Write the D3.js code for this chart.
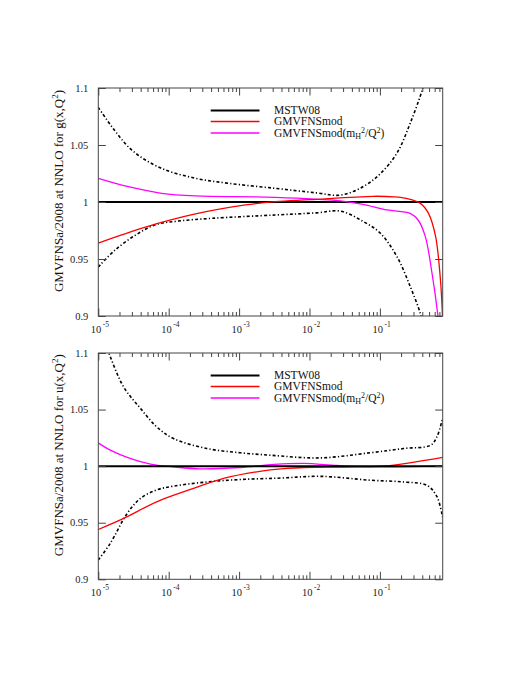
<!DOCTYPE html>
<html><head><meta charset="utf-8">
<script src="https://cdn.jsdelivr.net/npm/d3@7"></script>
<style>body{margin:0;background:#fff}</style>
</head><body>
<svg id="c" width="531" height="687"></svg>
<script>
// ---------- data (top panel: gluon) ----------
const gUpperX = [1e-5, 2.82e-5, 7.59e-5, 2.40e-4, 7.08e-4, 3.24e-3, 0.0126, 0.0275, 0.0575, 0.102, 0.175, 0.269, 0.398, 0.437];
const gUpper  = [1.083, 1.047, 1.030, 1.0208, 1.0164, 1.012, 1.008, 1.006, 1.0134, 1.025, 1.043, 1.069, 1.098, 1.108];
const gLowerX = [1e-5, 1.74e-5, 3.39e-5, 6.46e-5, 1.38e-4, 4.17e-4, 3.24e-3, 0.0126, 0.0275, 0.0575, 0.102, 0.175, 0.269, 0.372, 0.398];
const gLower  = [0.943, 0.958, 0.971, 0.980, 0.9833, 0.9857, 0.9886, 0.9905, 0.992, 0.983, 0.9725, 0.952, 0.926, 0.903, 0.895];
const gRedX   = [1e-5, 4.68e-5, 2.40e-4, 1.23e-3, 3.24e-3, 0.01, 0.0794, 0.158, 0.245, 0.372, 0.490, 0.617, 0.724, 0.78];
const gRed    = [0.964, 0.978, 0.9895, 0.9974, 1.0003, 1.002, 1.005, 1.0045, 1.003, 0.999, 0.990, 0.970, 0.932, 0.895];
const gMagX   = [1e-5, 2.69e-5, 7.94e-5, 2.40e-4, 3.24e-3, 0.0275, 0.0575, 0.126, 0.269, 0.351, 0.442, 0.550, 0.661, 0.692];
const gMag    = [1.0208, 1.0134, 1.0076, 1.0053, 1.0041, 1.001, 0.998, 0.993, 0.990, 0.984, 0.9696, 0.9375, 0.9023, 0.89];
// ---------- data (bottom panel: u quark) ----------
const uUpperX = [1e-5, 1.41e-5, 2.29e-5, 3.98e-5, 6.76e-5, 1.17e-4, 3.47e-4, 1.05e-3, 2.75e-3, 0.0141, 0.0724, 0.219, 0.525, 0.646, 0.776];
const uUpper  = [1.125, 1.100, 1.070, 1.051, 1.0347, 1.0244, 1.0156, 1.0118, 1.0097, 1.0073, 1.0118, 1.0156, 1.0185, 1.026, 1.042];
const uLowerX = [1e-5, 1.48e-5, 2.57e-5, 3.98e-5, 6.76e-5, 1.17e-4, 3.47e-4, 1.05e-3, 3.98e-3, 0.0141, 0.0724, 0.219, 0.468, 0.646, 0.776];
const uLower  = [0.917, 0.9318, 0.9582, 0.9715, 0.979, 0.9823, 0.986, 0.9882, 0.9895, 0.991, 0.9876, 0.986, 0.983, 0.973, 0.955];
const uRedX   = [1e-5, 2.29e-5, 6.76e-5, 2.04e-4, 6.03e-4, 1.78e-3, 4.79e-3, 8.32e-3, 0.0427, 0.126, 0.372, 0.78];
const uRed    = [0.944, 0.9538, 0.9685, 0.9794, 0.9891, 0.995, 0.998, 0.9988, 0.9994, 1.0003, 1.0044, 1.0077];
const uMagX   = [1e-5, 1.48e-5, 2.82e-5, 5.50e-5, 1.17e-4, 2.82e-4, 1.05e-3, 3.16e-3, 8.32e-3, 0.0245, 0.0724, 0.78];
const uMag    = [1.0206, 1.0141, 1.0068, 1.0018, 0.9994, 0.9976, 0.9988, 1.0015, 1.0024, 1.0006, 0.9994, 1.0003];
// reference (MSTW08)
const refX = [1e-5, 0.78];
const refY = [1, 1];
// ticks / labels
const xDomain = [1e-5, 0.78];
const yDomain = [0.9, 1.1];
const yTicks = [0.9, 0.95, 1, 1.05, 1.1];
const yTickLabels = ["0.9", "0.95", "1", "1.05", "1.1"];
const xMajor = [1e-5, 1e-4, 1e-3, 1e-2, 1e-1];
const xMajorExp = ["-5", "-4", "-3", "-2", "-1"];
const legendNames = ["MSTW08", "GMVFNSmod", "GMVFNSmod(mH2/Q2)"];
const panelParton = ["g", "u"];

const svg = d3.select("#c");
const L = 98.3, R = 442.7;
const panels = [
  {top: 88, bottom: 316, parton: panelParton[0], series: [
    {x: gUpperX, y: gUpper, kind: "band"}, {x: gLowerX, y: gLower, kind: "band"},
    {x: refX, y: refY, kind: "ref"}, {x: gMagX, y: gMag, kind: "mag"}, {x: gRedX, y: gRed, kind: "red"}]},
  {top: 353, bottom: 579.3, parton: panelParton[1], series: [
    {x: uUpperX, y: uUpper, kind: "band"}, {x: uLowerX, y: uLower, kind: "band"},
    {x: uMagX, y: uMag, kind: "mag"}, {x: uRedX, y: uRed, kind: "red"}, {x: refX, y: refY, kind: "ref"}]}
];
const styles = {
  band: {stroke: "#000", w: 1.6, dash: "3,2.2,1.2,2.2"},
  ref: {stroke: "#000", w: 2, dash: null},
  red: {stroke: "#ff0000", w: 1.3, dash: null},
  mag: {stroke: "#ff00ff", w: 1.3, dash: null}
};
const serif = "'Liberation Serif','Times New Roman',serif";

const x = d3.scaleLog().domain(xDomain).range([L, R]);
const minor = [];
for (let d = -5; d <= -1; d++) for (let k = 2; k <= 9; k++) { const v = k * Math.pow(10, d); if (v <= xDomain[1]) minor.push(v); }

panels.forEach((p, i) => {
  const y = d3.scaleLinear().domain(yDomain).range([p.bottom, p.top]);
  const g = svg.append("g");
  const cid = "clip" + i;
  svg.append("clipPath").attr("id", cid).append("rect")
    .attr("x", L).attr("y", p.top).attr("width", R - L).attr("height", p.bottom - p.top);

  const line = d3.line().x(d => x(d[0])).y(d => y(d[1])).curve(d3.curveCatmullRom.alpha(0.5));
  const plot = g.append("g").attr("clip-path", `url(#${cid})`);
  p.series.forEach(s => {
    const st = styles[s.kind];
    plot.append("path").datum(s.x.map((v, j) => [v, s.y[j]]))
      .attr("d", line).attr("fill", "none").attr("stroke", st.stroke)
      .attr("stroke-width", st.w).attr("stroke-dasharray", st.dash);
  });

  // axes (ticks inside)
  const axCol = "#444";
  const addAxis = (ax, tr) => {
    const a = g.append("g").attr("transform", tr).call(ax);
    a.select(".domain").remove();
    a.selectAll("line").attr("stroke", axCol);
    a.selectAll("text").remove();
    return a;
  };
  addAxis(d3.axisBottom(x).tickValues(xMajor).tickSize(-7.5), `translate(0,${p.bottom})`);
  addAxis(d3.axisBottom(x).tickValues(minor).tickSize(-4), `translate(0,${p.bottom})`);
  addAxis(d3.axisTop(x).tickValues(xMajor).tickSize(-7.5), `translate(0,${p.top})`);
  addAxis(d3.axisTop(x).tickValues(minor).tickSize(-4), `translate(0,${p.top})`);
  addAxis(d3.axisLeft(y).tickValues(yTicks).tickSize(-7.5), `translate(${L},0)`);
  addAxis(d3.axisRight(y).tickValues(yTicks).tickSize(-7.5), `translate(${R},0)`);

  g.append("rect").attr("x", L).attr("y", p.top).attr("width", R - L).attr("height", p.bottom - p.top)
    .attr("fill", "none").attr("stroke", axCol).attr("stroke-width", 1);

  // y tick labels
  yTicks.forEach((v, j) => {
    g.append("text").attr("x", L - 10).attr("y", y(v)).attr("dy", "0.35em")
      .attr("text-anchor", "end").attr("font-family", serif).attr("font-size", 10.5)
      .attr("fill", "#222").text(yTickLabels[j]);
  });
  // x tick labels 10^n
  xMajor.forEach((v, j) => {
    const t = g.append("text").attr("x", x(v) - 7.5).attr("y", p.bottom + 17)
      .attr("font-family", serif).attr("font-size", 10.5).attr("fill", "#222");
    t.append("tspan").text("10");
    t.append("tspan").attr("dx", 1.5).attr("dy", -6).attr("font-size", 7.5).text(xMajorExp[j]);
  });

  // y title
  const yt = g.append("text").attr("transform", `translate(63,${(p.top + p.bottom) / 2 - 11}) rotate(-90)`)
    .attr("text-anchor", "middle").attr("font-family", serif).attr("font-size", 13).attr("fill", "#111");
  yt.append("tspan").text(`GMVFNSa/2008 at NNLO for ${p.parton}(x,Q`);
  yt.append("tspan").attr("dy", -5).attr("font-size", 9).text("2");
  yt.append("tspan").attr("dy", 5).text(")");

  // legend
  const legCols = [styles.ref, styles.red, styles.mag];
  const rows = [22.5, 33.5, 45];
  rows.forEach((dy, j) => {
    const yy = p.top + dy;
    g.append("line").attr("x1", 210.7).attr("x2", 259.5).attr("y1", yy).attr("y2", yy)
      .attr("stroke", legCols[j].stroke).attr("stroke-width", legCols[j].w);
    const t = g.append("text").attr("x", 274).attr("y", yy).attr("dy", "0.33em")
      .attr("font-family", serif).attr("font-size", 11.5).attr("fill", "#111");
    if (j < 2) t.text(legendNames[j]);
    else {
      t.append("tspan").text("GMVFNSmod(m");
      t.append("tspan").attr("dy", 2.5).attr("font-size", 8).text("H");
      t.append("tspan").attr("dy", -6.5).attr("font-size", 8).text("2");
      t.append("tspan").attr("dy", 4).text("/Q");
      t.append("tspan").attr("dy", -4).attr("font-size", 8).text("2");
      t.append("tspan").attr("dy", 4).text(")");
    }
  });
});
</script>
</body></html>
